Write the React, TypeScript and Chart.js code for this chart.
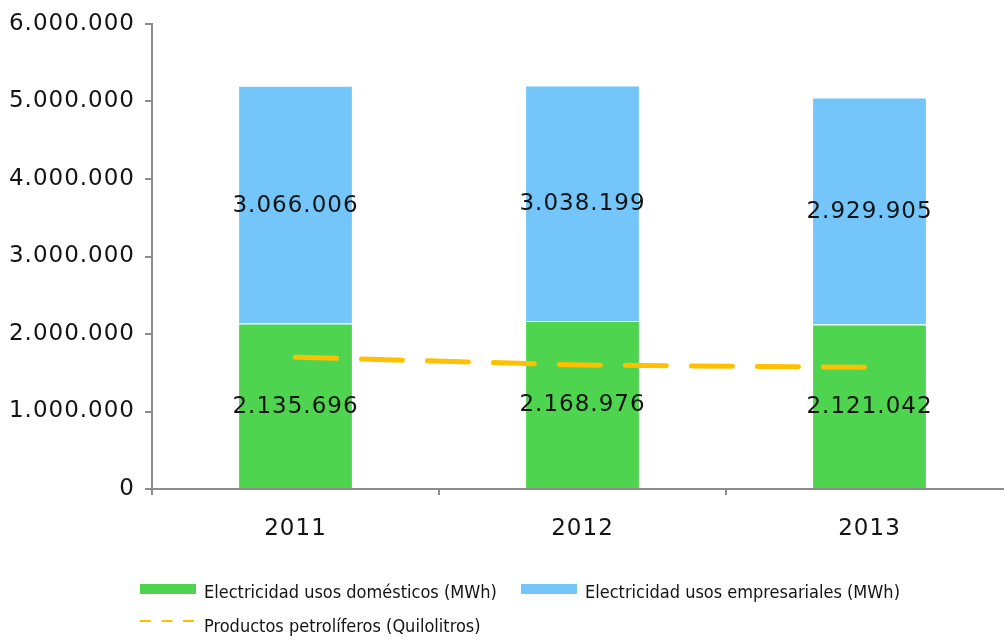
import React, { useEffect, useRef } from "react";
import { Chart, registerables } from "chart.js";

Chart.register(...registerables);

const categories = ["2011", "2012", "2013"];
const domesticMWh = [2135696, 2168976, 2121042];
const businessMWh = [3066006, 3038199, 2929905];
const petroleumKl = [1700000, 1600000, 1570000];
const seriesLabels = [
  "Electricidad usos domésticos (MWh)",
  "Electricidad usos empresariales (MWh)",
  "Productos petrolíferos (Quilolitros)",
];
const yMin = 0;
const yMax = 6000000;
const yStep = 1000000;

const GREEN = "#4ED44E";
const BLUE = "#73C5FA";
const YELLOW = "#FFC000";
const AXIS = "#8C8C8C";
const TEXT = "#141414";
const FONT = "'DejaVu Sans', 'Open Sans', sans-serif";
const LEGEND_FONT = "'DejaVu Sans Condensed', 'Liberation Sans Narrow', 'DejaVu Sans', sans-serif";

function fmt(n: number): string {
  return String(Math.round(n)).replace(/\B(?=(\d{3})+(?!\d))/g, ".");
}

const spacingPlugin = {
  id: "spacing",
  beforeUpdate(chart: any) {
    (chart.ctx as any).letterSpacing = "1px";
  },
  beforeDraw(chart: any) {
    (chart.ctx as any).letterSpacing = "1px";
  },
};

const barLabelPlugin = {
  id: "barLabels",
  afterDatasetsDraw(chart: any) {
    const ctx = chart.ctx;
    ctx.save();
    (ctx as any).letterSpacing = "1px";
    ctx.font = `23px ${FONT}`;
    ctx.fillStyle = TEXT;
    ctx.textAlign = "center";
    ctx.textBaseline = "middle";
    [0, 1].forEach((di) => {
      const meta = chart.getDatasetMeta(di);
      const values = chart.data.datasets[di].data as number[];
      meta.data.forEach((el: any, i: number) => {
        const { x, y, base } = el.getProps(["x", "y", "base"], true);
        ctx.fillText(fmt(values[i]), x, (y + base) / 2 + 1);
      });
    });
    ctx.restore();
  },
};

const legendPlugin = {
  id: "customLegend",
  afterDraw(chart: any) {
    const ctx = chart.ctx;
    const ds = chart.data.datasets;
    ctx.save();
    (ctx as any).letterSpacing = "0px";
    ctx.font = `18px ${LEGEND_FONT}`;
    ctx.fillStyle = TEXT;
    ctx.textAlign = "left";
    ctx.textBaseline = "alphabetic";
    // row 1
    ctx.fillStyle = ds[0].backgroundColor;
    ctx.fillRect(140, 584, 56, 10);
    ctx.fillStyle = TEXT;
    ctx.fillText(ds[0].label, 204, 598);
    ctx.fillStyle = ds[1].backgroundColor;
    ctx.fillRect(521, 584, 56, 10);
    ctx.fillStyle = TEXT;
    ctx.fillText(ds[1].label, 585, 598);
    // row 2
    ctx.strokeStyle = ds[2].borderColor;
    ctx.lineWidth = 2;
    ctx.setLineDash([11, 10.5]);
    ctx.beginPath();
    ctx.moveTo(140, 621);
    ctx.lineTo(196, 621);
    ctx.stroke();
    ctx.setLineDash([]);
    ctx.fillStyle = TEXT;
    ctx.fillText(ds[2].label, 204, 632);
    ctx.restore();
  },
};

export default function App() {
  const ref = useRef<HTMLCanvasElement | null>(null);

  useEffect(() => {
    if (!ref.current) return;
    const chart = new Chart(ref.current, {
      type: "bar",
      data: {
        labels: categories,
        datasets: [
          {
            type: "bar",
            label: seriesLabels[0],
            data: domesticMWh,
            backgroundColor: GREEN,
            borderColor: "rgba(255,255,255,0.7)",
            borderWidth: 1,
            barPercentage: 0.4,
            categoryPercentage: 1,
            stack: "elec",
            order: 2,
          },
          {
            type: "bar",
            label: seriesLabels[1],
            data: businessMWh,
            backgroundColor: BLUE,
            borderColor: "rgba(255,255,255,0.7)",
            borderWidth: 1,
            barPercentage: 0.4,
            categoryPercentage: 1,
            stack: "elec",
            order: 2,
          },
          {
            type: "line",
            label: seriesLabels[2],
            data: petroleumKl,
            borderColor: YELLOW,
            backgroundColor: YELLOW,
            borderWidth: 5,
            borderDash: [41, 25],
            borderCapStyle: "round",
            pointRadius: 0,
            pointHoverRadius: 0,
            fill: false,
            tension: 0,
            stack: "petro",
            order: 0,
          } as any,
        ],
      },
      options: {
        responsive: false,
        animation: false,
        layout: { padding: { top: 24, right: 1, left: 0, bottom: 0 } },
        plugins: {
          legend: { display: false },
          tooltip: { enabled: false },
        },
        scales: {
          x: {
            stacked: true,
            offset: true,
            grid: {
              display: true,
              drawOnChartArea: false,
              drawTicks: true,
              tickLength: 6,
              color: AXIS,
              lineWidth: 2,
              offset: true,
            },
            border: { display: true, color: AXIS, width: 2 },
            ticks: {
              color: TEXT,
              font: { family: FONT, size: 23 },
              padding: 20,
              maxRotation: 0,
            },
            afterFit: (s: any) => {
              s.height = 150;
            },
          },
          y: {
            stacked: true,
            min: yMin,
            max: yMax,
            grid: {
              display: true,
              drawOnChartArea: false,
              drawTicks: true,
              tickLength: 7,
              color: AXIS,
              lineWidth: 2,
            },
            border: { display: true, color: AXIS, width: 2 },
            ticks: {
              stepSize: yStep,
              color: TEXT,
              font: { family: FONT, size: 23 },
              padding: 10,
              callback: (v: any) => fmt(Number(v)),
            },
            afterFit: (s: any) => {
              s.width = 152;
            },
          },
        },
      },
      plugins: [spacingPlugin, barLabelPlugin, legendPlugin],
    } as any);
    return () => chart.destroy();
  }, []);

  return (
    <div
      style={{
        position: "fixed",
        left: 0,
        top: 0,
        width: 1004,
        height: 639,
        overflow: "hidden",
        background: "#ffffff",
      }}
    >
      <canvas ref={ref} width={1014} height={639} style={{ display: "block" }} />
    </div>
  );
}
